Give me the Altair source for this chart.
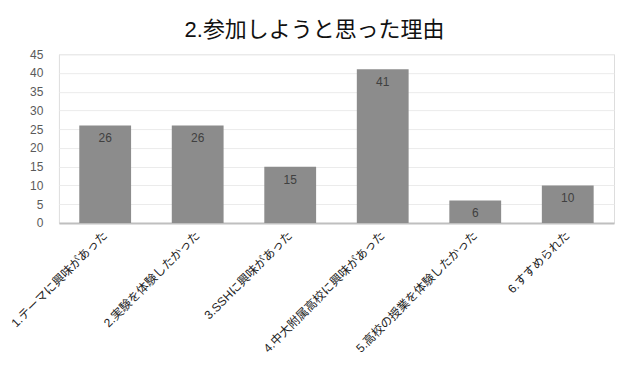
import altair as alt
import pandas as pd

categories = ["1.テーマに興味があった", "2.実験を体験したかった", "3.SSHに興味があった",
              "4.中大附属高校に興味があった", "5.高校の授業を体験したかった", "6.すすめられた"]
values = [26, 26, 15, 41, 6, 10]
y_ticks = [0, 5, 10, 15, 20, 25, 30, 35, 40, 45]
title = "2.参加しようと思った理由"

df = pd.DataFrame({"cat": categories, "val": values})
FONT = "Liberation Sans, Noto Sans CJK JP, sans-serif"

x = alt.X("cat:N", sort=categories, title=None,
          scale=alt.Scale(paddingInner=0.44, paddingOuter=0.22),
          axis=alt.Axis(labelAngle=-45, labelAlign="right", labelBaseline="middle",
                        labelFontSize=12, labelColor="#222222", labelFont=FONT,
                        ticks=False, domainColor="#bfbfbf", domainWidth=2,
                        labelPadding=10, labelLimit=300, grid=False))
y = alt.Y("val:Q", title=None,
          scale=alt.Scale(domain=[0, 45], nice=False),
          axis=alt.Axis(values=y_ticks, labelFontSize=12, labelColor="#5a5a5a", labelFont=FONT,
                        ticks=False, domain=False, gridColor="#ebebeb", labelPadding=16,
                        labelOverlap=False))

bars = alt.Chart(df).mark_bar(color="#8c8c8c").encode(x=x, y=y)
text = alt.Chart(df).mark_text(baseline="top", dy=8, fontSize=12, color="#404040", font=FONT).encode(
    x=x, y=y, text="val:Q")

chart = (bars + text).properties(
    width=556, height=169,
    title=alt.TitleParams(title, fontSize=22, font=FONT, fontWeight="normal", color="#111111",
                          anchor="middle", frame="group", dx=-22, offset=6),
    autosize=alt.AutoSizeParams(type="none"),
    padding={"left": 51, "top": 46, "right": 8, "bottom": 140},
).configure_view(strokeWidth=0).configure(background="white")

chart.save("out.html", embed_options={"renderer": "svg", "actions": False})
